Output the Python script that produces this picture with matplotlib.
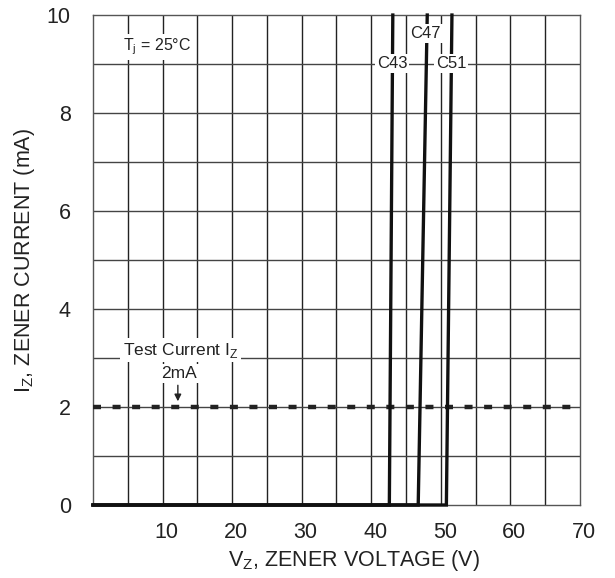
import matplotlib
matplotlib.use("Agg")
import matplotlib.pyplot as plt
import matplotlib.transforms as mtransforms

plt.rcParams['font.family'] = ['Liberation Sans', 'DejaVu Sans']

# zener curves: voltage at 0 mA knee and at 10 mA
curve_names = ["C43", "C47", "C51"]
v_knee = [42.6, 46.75, 50.8]
v_top  = [43.1, 48.05, 51.6]
i_top  = 10.0
label_pos = [(43.0, 9.02), (47.8, 9.62), (51.45, 9.02)]

test_current = 2.0
x_ticks = [10, 20, 30, 40, 50, 60, 70]
y_ticks = [0, 2, 4, 6, 8, 10]

fig = plt.figure(figsize=(6.15, 5.78), dpi=100)
ax = fig.add_axes([0.1512, 0.1263, 0.7918, 0.8477])
ax.set_xlim(0, 70)
ax.set_ylim(0, 10)

# grid
for x in range(5, 70, 5):
    ax.axvline(x, color="#222222", lw=1.0, zorder=1)
for y in range(1, 10):
    ax.axhline(y, color="#444444", lw=1.0, zorder=1)

for s in ax.spines.values():
    s.set_color("#555555")
    s.set_linewidth(1.0)

# test current dashed line
ax.plot([0, 70], [test_current, test_current], color="#222222", lw=3.2,
        dashes=(1.8, 2.6), solid_capstyle="butt", zorder=3)

# curves
for vk, vt in zip(v_knee, v_top):
    ax.plot([0, vk, vt], [0, 0, i_top], color="#111111", lw=2.4,
            clip_on=False, zorder=4, solid_joinstyle="miter")

for name, (lx, ly) in zip(curve_names, label_pos):
    ax.text(lx, ly, name, ha="center", va="center", fontsize=12,
            color="#222222", zorder=6,
            bbox=dict(facecolor="white", edgecolor="none", pad=1.5))

ax.text(9.2, 9.35, "T$_\\mathregular{j}$ = 25°C", ha="center", va="center",
        fontsize=11.5, color="#222222", zorder=6,
        bbox=dict(facecolor="white", edgecolor="none", pad=2))

ax.text(12.6, 3.16, "Test Current I$_\\mathregular{Z}$", ha="center", va="center",
        fontsize=12.5, color="#222222", zorder=6,
        bbox=dict(facecolor="white", edgecolor="none", pad=2))
ax.text(12.4, 2.69, "2mA", ha="center", va="center", fontsize=12.5,
        color="#222222", zorder=6,
        bbox=dict(facecolor="white", edgecolor="none", pad=1.5))
ax.annotate("", xy=(12.2, 2.06), xytext=(12.2, 2.5),
            arrowprops=dict(arrowstyle="-|>", color="#222222", lw=1.0,
                            mutation_scale=10), zorder=6)

ax.set_xticks(x_ticks)
ax.set_yticks(y_ticks)
ax.tick_params(length=0, labelsize=15.5, colors="#222222", pad=12)
ax.tick_params(axis="y", pad=16)

# x tick labels sit a little right of their grid lines in the original
shift = mtransforms.ScaledTranslation(4 / 100, 0, fig.dpi_scale_trans)
for lbl in ax.get_xticklabels():
    lbl.set_transform(lbl.get_transform() + shift)

ax.set_xlabel("V$_\\mathregular{Z}$, ZENER VOLTAGE (V)", fontsize=15.5, color="#222222", labelpad=4)
ax.xaxis.label.set_x(0.536)
ax.set_ylabel("I$_\\mathregular{Z}$, ZENER CURRENT (mA)", fontsize=15.5, color="#222222", labelpad=7)

fig.savefig("out.png", dpi=100)
